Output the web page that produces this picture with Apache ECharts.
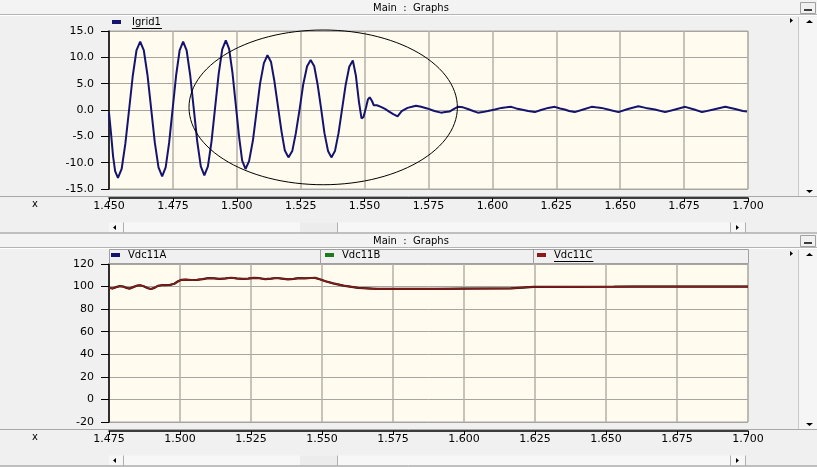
<!DOCTYPE html>
<html>
<head>
<meta charset="utf-8">
<title>Main : Graphs</title>
<script src="https://cdn.jsdelivr.net/npm/echarts@6/dist/echarts.min.js"></script>
<style>
  html, body { margin: 0; padding: 0; background: #f0f0f0; }
  #main { width: 817px; height: 467px; }
</style>
</head>
<body>
<div id="main"></div>
<script>
// ---- Grid current Igrid1 (kA) ----
const igridTime = [
  1.4500, 1.4508, 1.4516, 1.4524, 1.4535, 1.45495, 1.4564, 1.45785, 1.4593, 1.46075,
  1.4622, 1.46363, 1.46507, 1.4665, 1.46793, 1.46937, 1.4708, 1.47217, 1.47353, 1.4749,
  1.47627, 1.47763, 1.4790, 1.48038, 1.48177, 1.48315, 1.48453, 1.48592, 1.4873, 1.4887,
  1.4901, 1.4915, 1.4929, 1.4943, 1.4957, 1.4970, 1.4983, 1.4996, 1.5009, 1.5021,
  1.5034, 1.5048, 1.5063, 1.5077, 1.5091, 1.5106, 1.5120, 1.5134, 1.5147, 1.5161,
  1.5175, 1.5188, 1.5202, 1.5217, 1.5231, 1.5246, 1.5260, 1.5275, 1.5289, 1.5303,
  1.5316, 1.5330, 1.5343, 1.5357, 1.5370, 1.5384, 1.5398, 1.5412, 1.5426, 1.5440,
  1.5454, 1.5466, 1.5478, 1.5488, 1.5496, 1.5505, 1.5513, 1.5520, 1.5528, 1.5536,
  1.5548, 1.5564, 1.5580, 1.5596, 1.5612, 1.5629, 1.5645, 1.5668, 1.5685, 1.5701,
  1.5721, 1.5745, 1.5773, 1.5799, 1.5815, 1.5832, 1.5850, 1.5865, 1.5885, 1.5904,
  1.5925, 1.5943, 1.5962, 1.5982, 1.6010, 1.6035, 1.6055, 1.6074, 1.6093, 1.6113,
  1.6140, 1.6166, 1.6190, 1.6218, 1.6244, 1.6265, 1.6283, 1.6300, 1.6322, 1.6355,
  1.6388, 1.6405, 1.6427, 1.6460, 1.6493, 1.6530, 1.6571, 1.6600, 1.6636, 1.6676,
  1.6715, 1.6754, 1.6790, 1.6820, 1.6865, 1.6911, 1.6950, 1.6980, 1.6996
];
const igridValue = [
  -0.5, -4.5, -8.8, -11.6, -12.9, -11.2, -6.4, 0.0, 6.5, 11.3,
  13.0, 11.3, 6.6, 0.2, -6.2, -10.9, -12.6, -10.9, -6.2, 0.2,
  6.6, 11.3, 13.0, 11.3, 6.6, 0.3, -6.0, -10.7, -12.4, -10.7,
  -6.0, 0.4, 6.8, 11.5, 13.2, 11.6, 7.1, 1.0, -5.1, -9.6,
  -11.2, -9.7, -5.8, -0.4, 5.0, 8.9, 10.4, 9.1, 5.5, 0.7,
  -4.1, -7.7, -9.0, -7.8, -4.4, 0.2, 4.9, 8.3, 9.5, 8.3,
  4.9, 0.2, -4.4, -7.8, -9.0, -7.8, -4.4, 0.2, 4.8, 8.2,
  9.4, 6.5, 1.5, -1.6, -1.3, 0.4, 2.0, 2.4, 1.8, 0.9,
  0.9, 0.6, 0.2, -0.3, -0.8, -1.2, -0.2, 0.4, 0.6, 0.8,
  0.6, 0.3, -0.2, -0.5, -0.4, -0.3, 0.2, 0.6, 0.5, 0.2,
  -0.2, -0.5, -0.4, -0.2, 0.1, 0.4, 0.5, 0.6, 0.3, 0.1,
  -0.2, -0.4, 0.0, 0.4, 0.6, 0.3, 0.1, -0.2, -0.4, 0.1,
  0.6, 0.5, 0.4, 0.0, -0.4, 0.2, 0.7, 0.4, 0.1, -0.4,
  0.1, 0.6, 0.1, -0.4, 0.1, 0.6, 0.2, -0.2, -0.3
];

// ---- DC link voltages Vdc11A / Vdc11B / Vdc11C (kV) ----
const vdcTime = [
  1.4750, 1.4762, 1.4775, 1.4788, 1.4800, 1.4812, 1.4822, 1.4835, 1.4848, 1.4860,
  1.4872, 1.4885, 1.4897, 1.4910, 1.4922, 1.4935, 1.4950, 1.4965, 1.4980, 1.4992,
  1.5005, 1.5020, 1.5040, 1.5060, 1.5080, 1.5100, 1.5120, 1.5140, 1.5160, 1.5180,
  1.5200, 1.5220, 1.5240, 1.5260, 1.5280, 1.5300, 1.5320, 1.5340, 1.5360, 1.5380,
  1.5400, 1.5420, 1.5440, 1.5460, 1.5476, 1.5495, 1.5512, 1.5540, 1.5575, 1.5628,
  1.5695, 1.5800, 1.5900, 1.5998, 1.6100, 1.6164, 1.6170, 1.6245, 1.6400, 1.6527,
  1.6600, 1.7000
];
const vdc11C = [
  99.0, 98.3, 99.5, 100.4, 100.0, 98.8, 98.2, 99.5, 100.8, 101.2,
  100.3, 98.8, 97.8, 98.8, 100.6, 101.2, 101.3, 101.5, 102.5, 104.5,
  106.0, 106.2, 105.8, 106.0, 106.6, 107.5, 107.3, 106.8, 107.2, 107.8,
  107.2, 106.8, 107.1, 107.7, 107.4, 106.6, 107.0, 107.6, 107.0, 106.4,
  106.9, 107.5, 107.3, 107.6, 107.7, 106.2, 104.7, 102.8, 100.9, 98.8,
  97.9, 97.9, 97.9, 98.2, 98.3, 98.4, 99.2, 99.7, 99.8, 99.9,
  100.0, 100.0
];
// the three phases lie on top of one another
const vdc11A = vdc11C.slice();
const vdc11B = vdc11C.slice();

// ---- axis ticks ----
const topTicks = { min: 1.450, max: 1.700, step: 0.025 };
const topRange = { min: -15, max: 15, step: 5 };
const botTicks = { min: 1.475, max: 1.700, step: 0.025 };
const botRange = { min: -20, max: 120, step: 20 };

const FONT = 'DejaVu Sans';
const pairs = (xs, ys) => xs.map((x, i) => [x, ys[i]]);

function xAxisCfg(grid, r) {
  return {
    type: 'value', gridIndex: grid, min: r.min, max: r.max, interval: r.step,
    offset: 9,
    axisLine: { show: true, onZero: false, lineStyle: { color: '#000', width: 1.5 } },
    axisTick: { show: true, length: 4, lineStyle: { color: '#000', width: 1 } },
    axisLabel: { formatter: v => v.toFixed(3), margin: 3, color: '#000',
                 fontFamily: FONT, fontSize: 11, showMinLabel: true, showMaxLabel: true },
    splitLine: { show: true, lineStyle: { color: '#b4b0a6', width: 1.5 } }
  };
}
function yAxisCfg(grid, r, digits) {
  return {
    type: 'value', gridIndex: grid, min: r.min, max: r.max, interval: r.step,
    axisLine: { show: true, onZero: false, lineStyle: { color: '#000', width: 1.5 } },
    axisTick: { show: true, length: 8, lineStyle: { color: '#000', width: 1 } },
    axisLabel: { formatter: v => v.toFixed(digits), margin: 15, color: '#000',
                 fontFamily: FONT, fontSize: 11 },
    splitLine: { show: true, lineStyle: { color: '#a8a59e', width: 1 } }
  };
}
// legend entries: swatch at `left`, caption after a gap of 5 + pad
const ICON_W = 9;
function legendCfg(name, left, top, pad) {
  return {
    data: [name], left: left, top: top, padding: 0, itemGap: 0,
    icon: 'rect', itemWidth: ICON_W, itemHeight: 4, selectedMode: false,
    textStyle: { fontFamily: FONT, fontSize: 10, color: '#000', padding: [0, 0, 0, pad] }
  };
}
const legIgrid = { name: 'Igrid1', left: 112, top: 17, pad: 6 };
const legA = { name: 'Vdc11A', left: 111, top: 250, pad: 3 };
const legB = { name: 'Vdc11B', left: 325, top: 250, pad: 3 };
const legC = { name: 'Vdc11C', left: 537, top: 250, pad: 3 };

const chart = echarts.init(document.getElementById('main'));
chart.setOption({
  backgroundColor: '#f0f0f0',
  animation: false,
  grid: [
    { left: 109, top: 31, width: 639, height: 158, show: true,
      backgroundColor: '#fffbef', borderColor: '#a9a9a9', borderWidth: 1 },
    { left: 109, top: 264, width: 639, height: 158, show: true,
      backgroundColor: '#fffbef', borderColor: '#a9a9a9', borderWidth: 1 }
  ],
  xAxis: [xAxisCfg(0, topTicks), xAxisCfg(1, botTicks)],
  yAxis: [yAxisCfg(0, topRange, 1), yAxisCfg(1, botRange, 0)],
  legend: [legIgrid, legA, legB, legC].map(l => legendCfg(l.name, l.left, l.top, l.pad)),
  series: [
    { name: 'Igrid1', type: 'line', xAxisIndex: 0, yAxisIndex: 0,
      data: pairs(igridTime, igridValue), showSymbol: false,
      color: '#14146e', lineStyle: { color: '#14146e', width: 2 } },
    { name: 'Vdc11B', type: 'line', xAxisIndex: 1, yAxisIndex: 1,
      data: pairs(vdcTime, vdc11B), showSymbol: false,
      color: '#1e7a1e', lineStyle: { color: '#1e7a1e', width: 1.5 } },
    { name: 'Vdc11A', type: 'line', xAxisIndex: 1, yAxisIndex: 1,
      data: pairs(vdcTime, vdc11A), showSymbol: false,
      color: '#14146e', lineStyle: { color: '#3a1a1a', width: 2.2 } },
    { name: 'Vdc11C', type: 'line', xAxisIndex: 1, yAxisIndex: 1,
      data: pairs(vdcTime, vdc11C), showSymbol: false,
      color: '#8b1a1a', lineStyle: { color: '#8b1a1a', width: 1.4 } }
  ]
});

// ---- window chrome: title bars, scroll bars, legend frame ----
const W = 817;
function textWidth(str, size) {
  const ctx = document.createElement('canvas').getContext('2d');
  ctx.font = size + 'px ' + FONT;
  return ctx.measureText(str).width;
}
function hline(x1, x2, y, color, w) {
  return { type: 'line', silent: true, z: 10,
           shape: { x1: x1, y1: y, x2: x2, y2: y }, style: { stroke: color, lineWidth: w || 1 } };
}
function vline(x, y1, y2, color, w) {
  return { type: 'line', silent: true, z: 10,
           shape: { x1: x, y1: y1, x2: x, y2: y2 }, style: { stroke: color, lineWidth: w || 1 } };
}
function tri(points) {
  return { type: 'polygon', silent: true, z: 10, shape: { points: points }, style: { fill: '#000' } };
}
function label(str, x, y, align, size) {
  return { type: 'text', silent: true, z: 10,
           style: { text: str, x: x, y: y, fill: '#000', font: (size || 10) + 'px ' + FONT,
                    textAlign: align || 'left', textVerticalAlign: 'middle' } };
}

function windowChrome(dy, plotTop, plotBottom, axisY, legendFrame) {
  const els = [];
  // title bar
  els.push({ type: 'rect', silent: true, z: 1, shape: { x: 0, y: dy, width: W, height: 14 },
             style: { fill: '#f3f3f3' } });
  els.push(hline(0, W, dy + 14.5, '#b4b4b4'));
  els.push(hline(0, W, dy + 15.5, '#ffffff'));
  els.push(label('Main  :  Graphs', 411, dy + 8, 'center', 10));
  // minimise button
  els.push({ type: 'rect', silent: true, z: 10, shape: { x: 800.5, y: dy + 2.5, width: 15, height: 11 },
             style: { fill: '#f0f0f0', stroke: '#a0a0a0', lineWidth: 1 } });
  els.push(hline(804, 812, dy + 10, '#000', 1.5));
  // vertical scroll strip at the right
  els.push({ type: 'rect', silent: true, z: 1, shape: { x: 798, y: plotTop - 14, width: 19, height: plotBottom - plotTop + 21 },
             style: { fill: '#f5f5f5' } });
  els.push(vline(798.5, plotTop - 14, plotBottom + 7, '#c8c8c8'));
  els.push(tri([[790, plotTop - 13], [790, plotTop - 8], [793, plotTop - 10.5]]));
  els.push(tri([[806, plotTop - 8], [813, plotTop - 8], [809.5, plotTop - 11]]));
  els.push(tri([[806, plotBottom + 1], [813, plotBottom + 1], [809.5, plotBottom + 4]]));
  // legend frame
  if (legendFrame) {
    els.push({ type: 'rect', silent: true, z: 1, shape: { x: 109.5, y: plotTop - 14.5, width: 639, height: 14 },
               style: { fill: '#f0f0f0', stroke: '#a0a0a0', lineWidth: 1 } });
    els.push(vline(320.5, plotTop - 14, plotTop, '#a0a0a0'));
    els.push(vline(533.5, plotTop - 14, plotTop, '#a0a0a0'));
  }
  // axis strip separator and "x" caption
  els.push(hline(0, W, axisY - 2, '#a8a8a8'));
  els.push(label('x', 35, axisY + 6, 'center', 10));
  // horizontal scroll bar
  const sy = axisY + 24;
  els.push({ type: 'rect', silent: true, z: 1, shape: { x: 109, y: sy, width: 637, height: 10 },
             style: { fill: '#f7f7f7' } });
  els.push({ type: 'rect', silent: true, z: 1, shape: { x: 300, y: sy, width: 37, height: 10 },
             style: { fill: '#ececec' } });
  els.push(vline(123.5, sy, sy + 10, '#b0b0b0'));
  els.push(vline(337.5, sy, sy + 10, '#b0b0b0'));
  els.push(vline(730.5, sy, sy + 10, '#b0b0b0'));
  els.push(vline(745.5, sy, sy + 10, '#b0b0b0'));
  els.push(tri([[116, sy + 2.5], [116, sy + 7.5], [113, sy + 5]]));
  els.push(tri([[736, sy + 2.5], [736, sy + 7.5], [739, sy + 5]]));
  els.push(hline(0, W, sy + 10.5, '#8c8c8c'));
  return els;
}

const graphics = []
  .concat(windowChrome(0, 31, 189, 198.5, false))
  .concat(windowChrome(233, 264, 422, 431.5, true));

// underline on the highlighted legend entries
function underline(l) {
  const x0 = l.left + ICON_W + 5 + l.pad;
  return hline(x0, x0 + textWidth(l.name, 10) + 1, l.top + 11.5, '#000');
}
graphics.push(underline(legIgrid));
graphics.push(underline(legC));

// hand-drawn ellipse around the fault transient, placed in data coordinates
const c = chart.convertToPixel({ gridIndex: 0 }, [1.5338, 0.5]);
const e = chart.convertToPixel({ gridIndex: 0 }, [1.5338 + 0.0525, 15.0]);
const rx = e[0] - c[0], ry = c[1] - e[1] + 1;
const ring = [];
for (let k = 0; k <= 120; k++) {
  const a = (k / 120) * Math.PI * 2;
  ring.push([c[0] + rx * Math.cos(a), c[1] + ry * Math.sin(a)]);
}
graphics.push({ type: 'polyline', silent: true, z: 20, shape: { points: ring },
                style: { stroke: '#000', lineWidth: 1, fill: null } });

chart.setOption({ graphic: { elements: graphics } });
</script>
</body>
</html>
